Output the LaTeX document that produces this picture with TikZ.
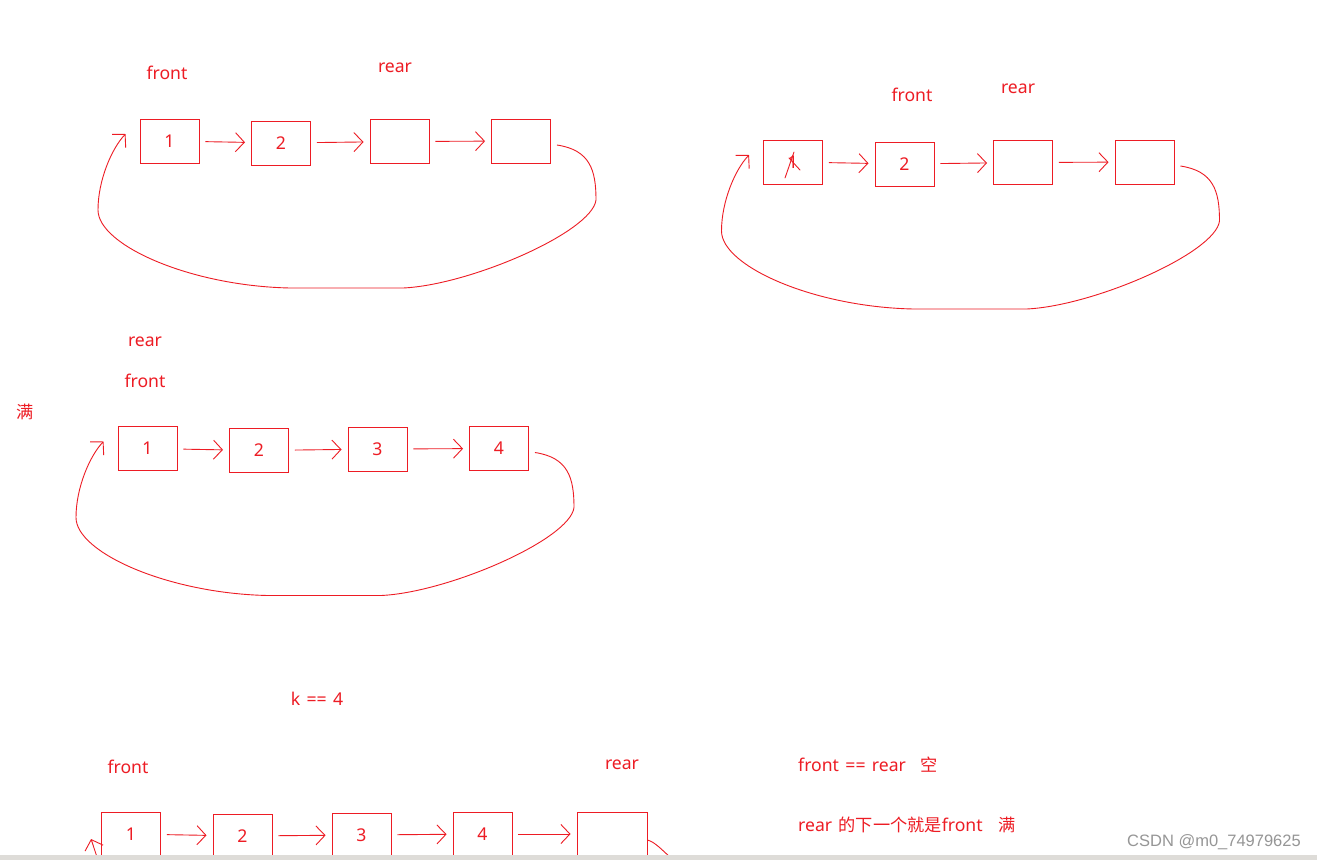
\documentclass[tikz,border=0pt]{standalone}
\usepackage{fontspec}
\setmainfont[WordSpace=1.4]{Noto Sans}
\newfontfamily\cjk{Noto Sans CJK SC}
\newfontfamily\markfont{Liberation Sans}
\usetikzlibrary{arrows.meta}
\definecolor{ink}{RGB}{237,28,36}
\definecolor{wmark}{RGB}{150,150,150}
\definecolor{barfill}{RGB}{222,220,216}
\newcommand\hanzi[1]{{\cjk\fontsize{17.2}{20}\selectfont #1}}

\begin{document}
\begin{tikzpicture}[
    x=1pt,y=1pt,
    every node/.style={font=\fontsize{17.6}{21}\selectfont, text=ink, inner sep=0pt},
    cell/.style={draw=ink, line width=0.9pt, minimum width=59pt, minimum height=44pt},
    widecell/.style={cell, minimum width=70pt},
    link/.style={draw=ink, line width=0.9pt, -{Straight Barb[length=9pt,width=19pt]}, shorten <=6pt, shorten >=6pt},
    ring/.style={draw=ink, line width=0.9pt, -{Straight Barb[length=9pt,width=19pt]}},
    scrawl/.style={draw=ink, line width=0.9pt, line cap=round}
]
    \fill[white] (0,0) rectangle (1317,-860);
    \useasboundingbox (0,0) rectangle (1317,-860);

    % the same four-cell ring, three times
    \foreach \gx/\gy/\g/\c/\d in {0/0/a/{}/{}, 623.5/-21/b/{}/{}, -22/-307.5/c/3/4} {
      \begin{scope}[shift={(\gx,\gy)}]
        \node[cell] (\g1) at (169.5,-141) {1};
        \node[cell] (\g2) at (281,-143) {2};
        \node[cell] (\g3) at (399.5,-141.5) {\c};
        \node[cell] (\g4) at (521,-141) {\d};
        \draw[link] (\g1) -- (\g2);
        \draw[link] (\g2) -- (\g3);
        \draw[link] (\g3) -- (\g4);
        \draw[ring] ([xshift=6pt,yshift=-4pt]\g4.east)
            .. controls (590,-150) and (596,-170) .. (596,-200)
            .. controls (592,-232) and (470,-285) .. (403,-288) -- (290,-288)
            .. controls (190,-286) and (98,-245) .. (98,-210)
            .. controls (98,-180) and (112,-148) .. ([xshift=-14pt,yshift=7pt]\g1.west);
      \end{scope}
    }

    \node (afront) at (167,-73) {front};
    \node (arear) at (395,-68) {rear};
    \node (bfront) at (912,-95) {front};
    \node (brear) at (1018,-89) {rear};
    \draw[scrawl] (794,-152) -- (785,-178);
    \draw[scrawl] (789,-158) -- (800,-170);
    \node (crear) at (145,-342) {rear};
    \node (cfront) at (145,-381) {front};
    \node (cfull) at (25,-412) {\hanzi{满}};

    % k == 4
    \node (keq) at (317,-699) {k == 4};
    \node (efront) at (128,-767) {front};
    \node (erear) at (622,-765) {rear};
    \node[cell] (e1) at (131,-834) {1};
    \node[cell] (e2) at (242.5,-836) {2};
    \node[cell] (e3) at (361.5,-835) {3};
    \node[cell] (e4) at (482.5,-834) {4};
    \node[widecell] (e5) at (612,-834) {};
    \foreach \i/\j in {1/2,2/3,3/4,4/5}
        \draw[link] (e\i) -- (e\j);
    \coordinate (e5tail) at (670,-857);
    \coordinate (e1tail) at (97,-857);
    \draw[scrawl] ([yshift=-6pt]e5.east) .. controls (655,-842) and (662,-850) .. (e5tail);
    \draw[ring] (e1tail) -- ([xshift=-10pt,yshift=-5pt]e1.west);

    \node[anchor=west] (isempty) at (798,-765) {front == rear\hspace{15pt}\hanzi{空}};
    \node[anchor=west] (isfull) at (798,-825) {rear \hanzi{的下一个就是}front\hspace{16pt}\hanzi{满}};
    \node[anchor=west, text=wmark, font=\markfont\fontsize{16.5}{19}\selectfont] (mark) at (1127,-842) {CSDN @m0\_74979625};

    \fill[barfill] (0,-855) rectangle (1317,-860);
\end{tikzpicture}
\end{document}
